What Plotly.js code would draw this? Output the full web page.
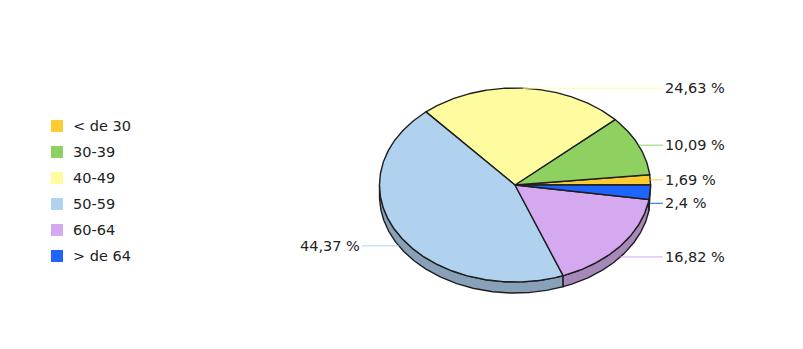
<!DOCTYPE html>
<html>
<head>
<meta charset="utf-8">
<script src="https://cdn.plot.ly/plotly-3.0.1.min.js"></script>
<style>html,body{margin:0;padding:0;background:#fff;}#chart{width:803px;height:349px;}</style>
</head>
<body>
<div id="chart"></div>
<script>
// ---- data ----
const categories = ['< de 30', '30-39', '40-49', '50-59', '60-64', '> de 64'];
const values = [1.69, 10.09, 24.63, 44.37, 16.82, 2.4];

// ---- styles ----
const topColors  = ['#FFCB33', '#8FD160', '#FFFCA0', '#B0D2EF', '#D5A9EF', '#1E64FF'];
const sideColors = ['#C89E28', '#6FA64A', '#CCCA80', '#88A0B8', '#A688B9', '#1850C8'];

const W = 803, H = 349;
const CX = 515, CY = 185, RX = 135.5, RY = 97, DEPTH = 11;
const FONT = {family: 'DejaVu Sans, Verdana, sans-serif', size: 14.5, color: '#222222'};

const total = values.reduce((a, b) => a + b, 0);
function pt(a, dy) { return [CX + RX * Math.cos(a), CY - RY * Math.sin(a) + (dy || 0)]; }
function arc(a0, a1, dy) {
  const n = Math.max(2, Math.ceil(Math.abs(a1 - a0) / 0.01));
  const out = [];
  for (let i = 0; i <= n; i++) out.push(pt(a0 + (a1 - a0) * i / n, dy));
  return out;
}

let start = 0;
const slices = values.map(v => {
  const a0 = start, a1 = start + v / total * 2 * Math.PI;
  start = a1;
  return {a0, a1};
});

const traces = [];
// side walls (front half)
slices.forEach((s, i) => {
  const lo = Math.max(s.a0, Math.PI), hi = Math.min(s.a1, 2 * Math.PI);
  if (hi <= lo) return;
  const pts = arc(lo, hi, 0).concat(arc(hi, lo, DEPTH));
  pts.push(pts[0]);
  traces.push({type: 'scatter', mode: 'lines', x: pts.map(p => p[0]), y: pts.map(p => p[1]),
    fill: 'toself', fillcolor: sideColors[i], line: {color: '#1e1e1e', width: 1.4}, hoverinfo: 'skip'});
});
// top faces
slices.forEach((s, i) => {
  const pts = [[CX, CY]].concat(arc(s.a0, s.a1, 0));
  pts.push([CX, CY]);
  traces.push({type: 'scatter', mode: 'lines', x: pts.map(p => p[0]), y: pts.map(p => p[1]),
    fill: 'toself', fillcolor: topColors[i], line: {color: '#1e1e1e', width: 1.4}, hoverinfo: 'skip'});
});

const annotations = [];
const RIGHT_X = 663, LEFT_X = 362;
slices.forEach((s, i) => {
  const mid = (s.a0 + s.a1) / 2;
  const p = pt(mid, Math.sin(mid) < 0 ? DEPTH : 0);
  const right = Math.cos(mid) >= 0;
  const ex = right ? RIGHT_X : LEFT_X;
  traces.push({type: 'scatter', mode: 'lines', x: [p[0], ex], y: [p[1], p[1]],
    line: {color: topColors[i], width: 1}, hoverinfo: 'skip'});
  annotations.push({x: ex, y: p[1], xref: 'x', yref: 'y', showarrow: false,
    text: String(values[i]).replace('.', ',') + ' %', xanchor: right ? 'left' : 'right', yanchor: 'middle', font: FONT});
});

// legend
const LEG_X = 57, LEG_Y0 = 126, LEG_DY = 26;
traces.push({type: 'scatter', mode: 'markers',
  x: categories.map(() => LEG_X), y: categories.map((c, i) => LEG_Y0 + i * LEG_DY),
  marker: {symbol: 'square', size: 12, color: topColors, line: {width: 0}}, hoverinfo: 'skip'});
categories.forEach((c, i) => {
  annotations.push({x: 71, y: LEG_Y0 + i * LEG_DY, xref: 'x', yref: 'y', showarrow: false,
    text: c.replace('<', '&lt;').replace('>', '&gt;'), xanchor: 'left', yanchor: 'middle', font: FONT});
});

const layout = {
  width: W, height: H, margin: {l: 0, r: 0, t: 0, b: 0},
  paper_bgcolor: '#fff', plot_bgcolor: '#fff', showlegend: false, hovermode: false,
  xaxis: {range: [0, W], visible: false, fixedrange: true},
  yaxis: {range: [H, 0], visible: false, fixedrange: true},
  annotations: annotations
};
Plotly.newPlot('chart', traces, layout, {displayModeBar: false, staticPlot: true});
</script>
</body>
</html>
